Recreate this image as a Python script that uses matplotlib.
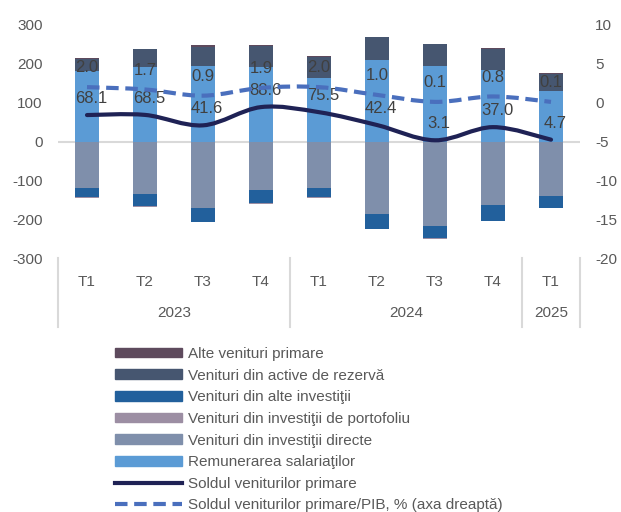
import numpy as np
import matplotlib
matplotlib.use("Agg")
import matplotlib.pyplot as plt
from matplotlib.path import Path
from matplotlib.patches import PathPatch, Patch
from matplotlib.lines import Line2D

plt.rcParams['font.family'] = ['Liberation Sans', 'DejaVu Sans']
plt.rcParams['axes.unicode_minus'] = False

quarters = ['T1', 'T2', 'T3', 'T4', 'T1', 'T2', 'T3', 'T4', 'T1']
years = ['2023', '2024', '2025']
year_span = [4, 4, 1]

remunerare = [181, 191, 195, 191, 164, 211, 195, 185, 129]
rezerva = [32, 47, 49, 56, 53, 57, 56, 54, 46]
alte_primare = [1, 1, 4, 1, 2, 1, 1, 1, 2]
directe = [-121, -136, -172, -124, -119, -187, -217, -164, -140]
alte_invest = [-23, -31, -35, -35, -25, -38, -32, -40, -31]
portofoliu = [-2, -2, -1, -1, -1, -1, -1, -1, -1]

sold = [68.1, 68.5, 41.6, 88.6, 75.5, 42.4, 3.1, 37.0, 4.7]
sold_pib = [2.0, 1.7, 0.9, 1.9, 2.0, 1.0, 0.1, 0.8, 0.1]

c_rem = '#5b9bd5'
c_rez = '#465670'
c_alte_pr = '#5e4a5d'
c_dir = '#7f8fab'
c_inv = '#22609c'
c_port = '#9c8ea3'
c_sold = '#1f2255'
c_pib = '#4a6fbd'
c_text = '#595959'


def smooth(ax_t, xs, ys, **kw):
    pts = np.column_stack([xs, ys]).astype(float)
    n = len(pts)
    verts = [pts[0]]
    codes = [Path.MOVETO]
    for i in range(n - 1):
        p0 = pts[max(i - 1, 0)]
        p1 = pts[i]
        p2 = pts[i + 1]
        p3 = pts[min(i + 2, n - 1)]
        verts += [p1 + (p2 - p0) / 6, p2 - (p3 - p1) / 6, p2]
        codes += [Path.CURVE4] * 3
    return PathPatch(Path(verts, codes), fill=False, transform=ax_t.transData, **kw)


fig = plt.figure(figsize=(6.21, 5.12), dpi=100)
ax = fig.add_axes([58 / 621, 1 - 258 / 512, 522 / 621, 233 / 512])
ax2 = ax.twinx()

x = np.arange(len(quarters))
w = 0.41

ax.axhline(0, color='#d9d9d9', lw=1.5, zorder=1)

ax.bar(x, remunerare, w, color=c_rem, zorder=2)
ax.bar(x, rezerva, w, bottom=remunerare, color=c_rez, zorder=2)
top = np.array(remunerare) + np.array(rezerva)
ax.bar(x, alte_primare, w, bottom=top, color=c_alte_pr, zorder=2)
ax.bar(x, directe, w, color=c_dir, zorder=2)
ax.bar(x, alte_invest, w, bottom=directe, color=c_inv, zorder=2)
low = np.array(directe) + np.array(alte_invest)
ax.bar(x, portofoliu, w, bottom=low, color=c_port, zorder=2)

ax.add_patch(smooth(ax, x, sold, color=c_sold, lw=3, zorder=4, capstyle='round'))
ax2.add_patch(smooth(ax2, x, sold_pib, color=c_pib, lw=3, zorder=4,
                     linestyle=(0, (3, 1.6))))

for xi, v in zip(x, sold):
    ax.annotate(f'{v:.1f}', (xi, v), xytext=(3, 12), textcoords='offset points',
                ha='center', va='center', fontsize=12, color='#404040', zorder=6)
for xi, v in zip(x, sold_pib):
    ax2.annotate(f'{v:.1f}', (xi, v), xytext=(0, 14), textcoords='offset points',
                 ha='center', va='center', fontsize=12, color='#404040', zorder=6)

ax.set_xlim(-0.5, len(x) - 0.5)
ax.set_ylim(-300, 300)
ax.set_yticks(range(-300, 301, 100))
ax2.set_ylim(-20, 10)
ax2.set_yticks(range(-20, 11, 5))
ax.set_xticks([])
for a in (ax, ax2):
    for s in a.spines.values():
        s.set_visible(False)
    a.tick_params(axis='y', length=0, labelsize=11, labelcolor=c_text, pad=11)
ax2.set_zorder(ax.get_zorder() + 1)
ax.patch.set_visible(False)

# two-level category axis
for xi, q in zip(x, quarters):
    ax.text(xi, -0.103, q, transform=ax.get_xaxis_transform(), ha='center',
            va='center', fontsize=11, color=c_text)
start = -0.5
seps = [start]
for yr, span in zip(years, year_span):
    ax.text(start + span / 2, -0.237, yr, transform=ax.get_xaxis_transform(),
            ha='center', va='center', fontsize=11, color=c_text)
    start += span
    seps.append(start)
for sx in seps:
    ax.plot([sx, sx], [0, -0.296], transform=ax.get_xaxis_transform(),
            color='#d9d9d9', lw=1.5, clip_on=False)

handles = [
    Patch(color=c_alte_pr, label='Alte venituri primare'),
    Patch(color=c_rez, label='Venituri din active de rezervă'),
    Patch(color=c_inv, label='Venituri din alte investiţii'),
    Patch(color=c_port, label='Venituri din investiţii de portofoliu'),
    Patch(color=c_dir, label='Venituri din investiţii directe'),
    Patch(color=c_rem, label='Remunerarea salariaţilor'),
    Line2D([], [], color=c_sold, lw=3, label='Soldul veniturilor primare'),
    Line2D([], [], color=c_pib, lw=3, linestyle=(0, (3, 1.6)),
           label='Soldul veniturilor primare/PIB, % (axa dreaptă)'),
]
leg = fig.legend(handles=handles, loc='upper left', bbox_to_anchor=(115 / 621, 1 - 347 / 512),
                 frameon=False, fontsize=11, handlelength=4.4, handleheight=0.6,
                 labelspacing=0.5, handletextpad=0.4, borderaxespad=0, borderpad=0)
for t in leg.get_texts():
    t.set_color(c_text)

fig.savefig('out.png', dpi=100)
